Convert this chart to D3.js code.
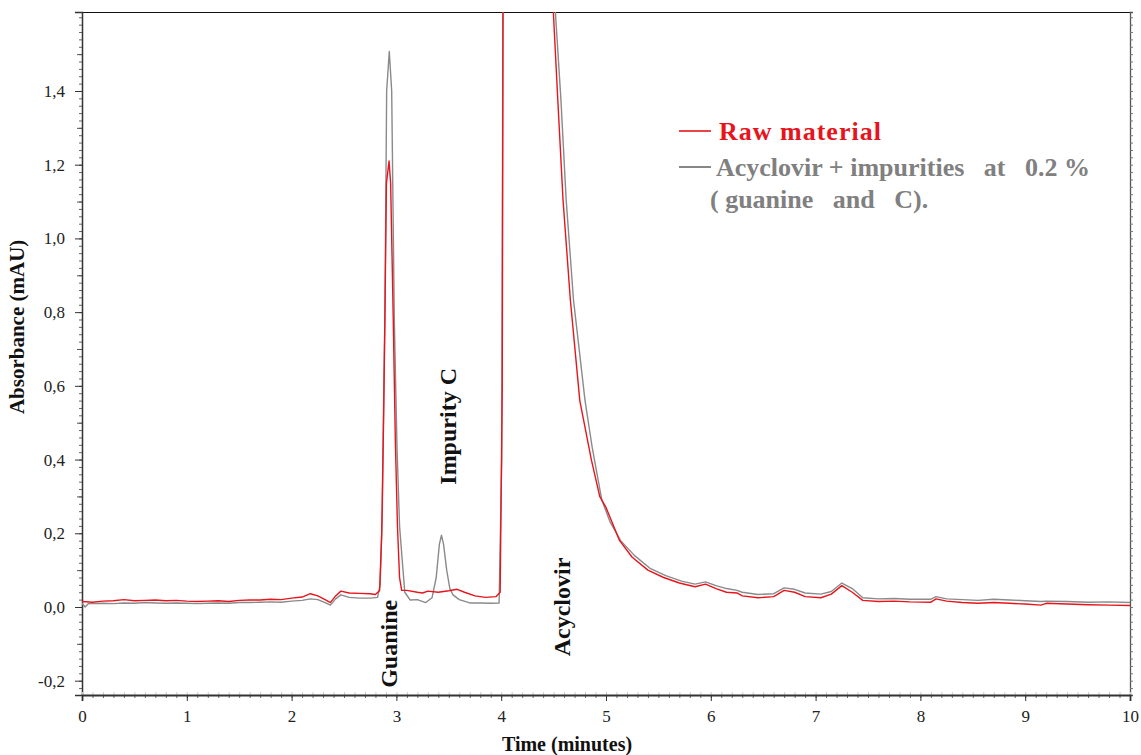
<!DOCTYPE html>
<html>
<head>
<meta charset="utf-8">
<script src="https://cdn.jsdelivr.net/npm/d3@7.9.0/dist/d3.min.js"></script>
<style>
  body { margin: 0; background: #fff; }
  svg { display: block; font-family: "Liberation Serif", "DejaVu Serif", serif; }
  .legend text { white-space: pre; }
</style>
</head>
<body>
<svg id="chart" width="1141" height="755"></svg>
<script>
// Retention times (min) and absorbance
const rawTime = [0.00,0.10,0.20,0.30,0.40,0.50,0.60,0.70,0.80,0.90,1.00,1.10,1.20,1.30,1.40,1.50,1.60,1.70,1.80,1.90,2.00,2.10,2.18,2.25,2.32,2.37,2.42,2.47,2.55,2.65,2.75,2.80,2.84,2.86,2.88,2.89,2.905,2.93,2.945,2.97,2.99,3.01,3.03,3.05,3.10,3.20,3.25,3.30,3.40,3.50,3.58,3.65,3.75,3.85,3.95,3.99,4.01,4.02,4.25,4.47,4.50,4.54,4.59,4.66,4.75,4.86,4.94,5.00,5.13,5.25,5.40,5.55,5.70,5.85,5.95,6.05,6.15,6.25,6.30,6.45,6.60,6.70,6.80,6.90,7.05,7.15,7.25,7.35,7.45,7.60,7.75,7.90,8.10,8.15,8.25,8.40,8.55,8.70,8.85,9.00,9.15,9.20,9.40,9.60,9.80,10.00];
const rawAbs = [0.015,0.013,0.016,0.017,0.020,0.017,0.018,0.019,0.017,0.018,0.016,0.015,0.016,0.017,0.015,0.018,0.019,0.019,0.021,0.020,0.024,0.027,0.036,0.030,0.020,0.012,0.030,0.043,0.038,0.037,0.036,0.034,0.045,0.20,0.55,0.78,1.15,1.21,1.15,0.78,0.45,0.22,0.08,0.045,0.045,0.040,0.038,0.043,0.040,0.044,0.048,0.040,0.030,0.026,0.028,0.040,0.60,2.00,3.00,1.80,1.60,1.376,1.104,0.833,0.56,0.40,0.30,0.27,0.18,0.135,0.10,0.080,0.065,0.055,0.062,0.050,0.040,0.038,0.030,0.025,0.028,0.045,0.040,0.028,0.025,0.035,0.058,0.040,0.018,0.015,0.016,0.014,0.013,0.022,0.016,0.012,0.010,0.012,0.010,0.008,0.005,0.010,0.008,0.006,0.005,0.004];

const spikedTime = [0.00,0.03,0.06,0.10,0.20,0.30,0.40,0.50,0.60,0.70,0.80,0.90,1.00,1.10,1.20,1.30,1.40,1.50,1.60,1.70,1.80,1.90,2.00,2.10,2.18,2.25,2.32,2.37,2.42,2.47,2.55,2.65,2.75,2.82,2.845,2.865,2.88,2.89,2.907,2.932,2.955,2.98,3.006,3.03,3.05,3.08,3.13,3.20,3.28,3.34,3.38,3.41,3.43,3.45,3.48,3.51,3.54,3.60,3.70,3.80,3.90,3.98,4.005,4.02,4.25,4.49,4.52,4.57,4.62,4.69,4.80,4.87,4.96,5.04,5.14,5.27,5.42,5.57,5.72,5.85,5.95,6.05,6.15,6.25,6.30,6.45,6.60,6.70,6.80,6.90,7.05,7.15,7.25,7.35,7.45,7.60,7.75,7.90,8.10,8.15,8.25,8.40,8.55,8.70,8.85,9.00,9.15,9.20,9.40,9.60,9.80,10.00];
const spikedAbs = [0.010,0.000,0.009,0.009,0.010,0.009,0.011,0.010,0.012,0.011,0.010,0.011,0.010,0.009,0.010,0.011,0.010,0.012,0.012,0.013,0.014,0.013,0.016,0.018,0.022,0.020,0.012,0.005,0.022,0.033,0.026,0.024,0.024,0.026,0.06,0.25,0.60,0.78,1.40,1.507,1.40,0.78,0.43,0.22,0.147,0.04,0.019,0.020,0.012,0.025,0.08,0.17,0.195,0.17,0.10,0.05,0.033,0.020,0.011,0.011,0.010,0.011,0.40,2.00,3.00,1.80,1.60,1.376,1.104,0.833,0.56,0.43,0.29,0.23,0.18,0.14,0.105,0.085,0.070,0.062,0.068,0.058,0.050,0.045,0.040,0.034,0.036,0.052,0.048,0.038,0.035,0.042,0.065,0.050,0.025,0.022,0.023,0.021,0.021,0.028,0.022,0.020,0.018,0.021,0.019,0.017,0.015,0.016,0.015,0.013,0.014,0.012];

const series = [
  { name: "Acyclovir + impurities at 0.2 %", time: spikedTime, abs: spikedAbs, color: "#8a8a8a" },
  { name: "Raw material", time: rawTime, abs: rawAbs, color: "#e8141c" }
];

const peakLabels = ["Guanine", "Impurity C", "Acyclovir"];
const peakLabelTimes = [3.01, 3.565, 4.655];
const peakLabelAbs = [-0.1, 0.49, -0.0];

const yMajorTicks = [-0.2, 0, 0.2, 0.4, 0.6, 0.8, 1.0, 1.2, 1.4];
const xMajorTicks = [0, 1, 2, 3, 4, 5, 6, 7, 8, 9, 10];

const svg = d3.select("#chart");
const margin = { top: 12, right: 11, bottom: 60, left: 82 };
const W = 1141, H = 755;
const plotW = W - margin.left - margin.right;
const plotH = H - margin.top - margin.bottom;

const x = d3.scaleLinear().domain([0, 10]).range([margin.left, margin.left + plotW]);
const y = d3.scaleLinear().domain([-0.2388, 1.6143]).range([margin.top + plotH, margin.top]);

const fmtComma = d => d3.format(".1f")(d).replace(".", ",").replace("\u2212", "-");
const serif = "'Liberation Serif', 'DejaVu Serif', serif";

// clip for the traces
svg.append("clipPath").attr("id", "plotClip")
  .append("rect")
  .attr("x", margin.left).attr("y", margin.top)
  .attr("width", plotW).attr("height", plotH);

// frame
svg.append("line")
  .attr("x1", margin.left).attr("x2", margin.left + plotW)
  .attr("y1", margin.top + 0.5).attr("y2", margin.top + 0.5)
  .attr("stroke", "#111").attr("stroke-width", 1.2);

// left axis
const minorY = d3.range(-0.22, 1.61, 0.02).map(v => +v.toFixed(2));
svg.append("g").attr("transform", `translate(${margin.left},0)`)
  .call(d3.axisLeft(y).tickValues(minorY).tickSize(3).tickFormat(""))
  .call(g => g.select(".domain").remove())
  .selectAll("line").attr("stroke", "#666");
svg.append("g").attr("transform", `translate(${margin.left},0)`)
  .call(d3.axisLeft(y).tickValues(d3.range(-0.1, 1.61, 0.2)).tickSize(5).tickFormat(""))
  .call(g => g.select(".domain").remove())
  .selectAll("line").attr("stroke", "#555");
const yAxis = svg.append("g").attr("transform", `translate(${margin.left},0)`)
  .attr("font-family", serif)
  .call(d3.axisLeft(y).tickValues(yMajorTicks).tickSize(7).tickPadding(10).tickFormat(fmtComma));
yAxis.attr("font-family", serif);
yAxis.select(".domain").attr("stroke", "#333").attr("stroke-width", 1.5);
yAxis.selectAll("line").attr("stroke", "#333");
yAxis.selectAll("text").attr("font-size", 17).attr("fill", "#222").style("font-family", serif);

// right axis
svg.append("g").attr("transform", `translate(${margin.left + plotW},0)`)
  .call(d3.axisRight(y).tickValues(minorY).tickSize(3).tickFormat(""))
  .call(g => g.select(".domain").attr("stroke", "#555").attr("stroke-width", 1.3))
  .selectAll("line").attr("stroke", "#777");

// bottom axis
const minorX = d3.range(0, 10.01, 0.1).map(v => +v.toFixed(1));
svg.append("g").attr("transform", `translate(0,${margin.top + plotH})`)
  .call(d3.axisBottom(x).tickValues(minorX).tickSize(3).tickFormat(""))
  .call(g => g.select(".domain").remove())
  .selectAll("line").attr("stroke", "#666");
svg.append("g").attr("transform", `translate(0,${margin.top + plotH})`)
  .call(d3.axisBottom(x).tickValues(minorX).tickSize(-3).tickFormat(""))
  .call(g => g.select(".domain").remove())
  .selectAll("line").attr("stroke", "#ccc");
const xAxis = svg.append("g").attr("transform", `translate(0,${margin.top + plotH})`)
  .call(d3.axisBottom(x).tickValues(xMajorTicks).tickSize(6).tickPadding(9).tickFormat(d3.format("d")));
xAxis.attr("font-family", serif);
xAxis.select(".domain").attr("stroke", "#333").attr("stroke-width", 1.8);
xAxis.selectAll("line").attr("stroke", "#333");
xAxis.selectAll("text").attr("font-size", 17).attr("fill", "#222").style("font-family", serif);

// traces
const line = d3.line().x(d => x(d[0])).y(d => y(d[1]));
const traces = svg.append("g").attr("clip-path", "url(#plotClip)");
series.forEach(s => {
  traces.append("path")
    .datum(d3.zip(s.time, s.abs))
    .attr("fill", "none")
    .attr("stroke", s.color)
    .attr("stroke-width", 1.4)
    .attr("stroke-linejoin", "round")
    .attr("d", line);
});

// peak names (vertical)
peakLabels.forEach((name, i) => {
  svg.append("text")
    .attr("transform", `translate(${x(peakLabelTimes[i])},${y(peakLabelAbs[i])}) rotate(-90)`)
    .attr("text-anchor", "middle")
    .attr("font-size", 24).attr("font-weight", "bold").attr("fill", "#111")
    .text(name);
});

// axis titles
svg.append("text")
  .attr("x", 567).attr("y", 751)
  .attr("text-anchor", "middle")
  .attr("font-size", 20).attr("font-weight", "bold").attr("fill", "#111")
  .text("Time (minutes)");
svg.append("text")
  .attr("transform", `translate(24,${y(0.76)}) rotate(-90)`)
  .attr("text-anchor", "middle")
  .attr("font-size", 21).attr("font-weight", "bold").attr("fill", "#111")
  .text("Absorbance (mAU)");

// legend
const legend = svg.append("g").attr("class", "legend");
legend.append("line").attr("x1", 679).attr("x2", 711).attr("y1", 131).attr("y2", 131)
  .attr("stroke", series[1].color).attr("stroke-width", 1.6);
legend.append("text").attr("x", 719).attr("y", 140)
  .attr("font-size", 26).attr("font-weight", "bold").attr("fill", series[1].color)
  .attr("letter-spacing", 1)
  .text(series[1].name);
legend.append("line").attr("x1", 679).attr("x2", 711).attr("y1", 167).attr("y2", 167)
  .attr("stroke", "#7a7a7a").attr("stroke-width", 1.8);
legend.append("text").attr("x", 716).attr("y", 176)
  .attr("font-size", 26).attr("font-weight", "bold").attr("fill", "#808080")
  .text("Acyclovir + impurities   at   0.2 %");
legend.append("text").attr("x", 710).attr("y", 208)
  .attr("font-size", 26).attr("font-weight", "bold").attr("fill", "#808080")
  .text("( guanine   and   C).");
</script>
</body>
</html>
